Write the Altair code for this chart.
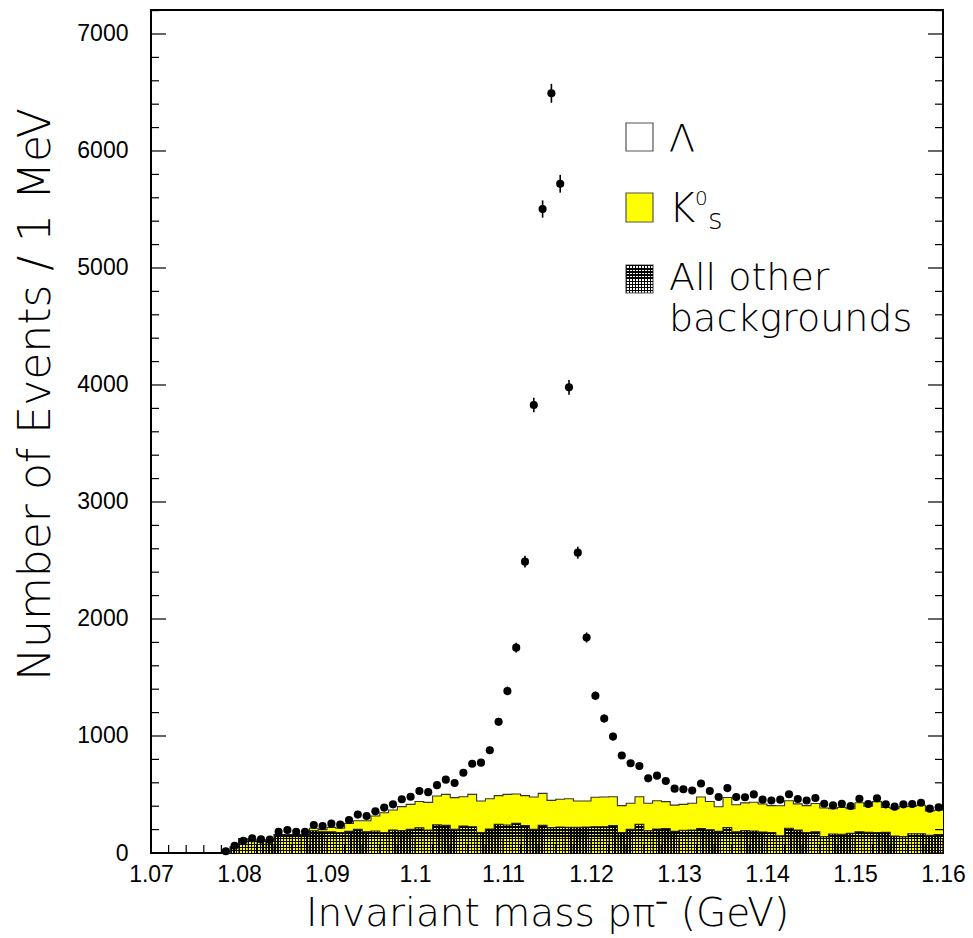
import altair as alt
import pandas as pd

# ---------------- data ----------------
# 1 MeV bins, lower edges 1.078 ... 1.159 GeV
bin_lo = [round(1.078 + 0.001 * i, 3) for i in range(82)]

data_counts = [15, 62, 105, 125, 116, 114, 182, 197, 182, 182,
               239, 231, 251, 242, 282, 328, 316, 356, 388, 416,
               459, 481, 530, 520, 580, 627, 598, 686, 763, 772,
               878, 1122, 1385, 1755, 2490, 3829, 5504, 6493, 5720, 3980,
               2567, 1842, 1344, 1150, 995, 833, 767, 744, 638, 661,
               615, 550, 545, 534, 594, 530, 479, 555, 479, 477,
               501, 456, 449, 456, 502, 462, 449, 470, 421, 407,
               421, 402, 464, 419, 467, 416, 396, 416, 419, 430,
               379, 390]

data_err = [4, 8, 10, 11, 11, 11, 13, 14, 13, 13,
            15, 15, 16, 16, 17, 18, 18, 19, 20, 20,
            21, 22, 23, 23, 24, 25, 24, 26, 28, 28,
            30, 33, 37, 42, 50, 62, 74, 81, 76, 63,
            51, 43, 37, 34, 32, 29, 28, 27, 25, 26,
            25, 23, 23, 23, 24, 23, 22, 24, 22, 22,
            22, 21, 21, 21, 22, 21, 21, 22, 21, 20,
            21, 20, 22, 20, 22, 20, 20, 20, 20, 21,
            19, 20]

# K0s + all other backgrounds (top of the yellow histogram)
bkg_total = [10, 54, 120, 111, 111, 111, 157, 157, 157, 157,
             211, 200, 219, 211, 253, 276, 276, 316, 344, 367,
             396, 416, 440, 433, 487, 501, 473, 481, 501, 444,
             464, 490, 501, 504, 490, 479, 510, 450, 460, 464,
             444, 444, 476, 479, 481, 405, 425, 481, 425, 447,
             439, 409, 416, 425, 478, 440, 395, 474, 413, 428,
             434, 419, 405, 404, 447, 420, 405, 423, 385, 378,
             390, 378, 430, 400, 439, 390, 379, 396, 400, 408,
             360, 365]

# all other backgrounds (hatched histogram)
bkg_other = [10, 54, 120, 111, 111, 111, 157, 157, 157, 157,
             190, 182, 182, 174, 185, 202, 182, 188, 174, 197,
             191, 202, 215, 197, 240, 236, 202, 231, 225, 174,
             205, 245, 239, 254, 234, 202, 236, 217, 222, 220,
             219, 222, 225, 225, 234, 174, 202, 245, 191, 205,
             208, 185, 194, 197, 208, 199, 185, 217, 182, 191,
             188, 179, 174, 148, 211, 197, 174, 182, 140, 162,
             160, 168, 182, 177, 174, 177, 145, 140, 165, 165,
             151, 157]

x_tick_values = [1.07, 1.08, 1.09, 1.10, 1.11, 1.12, 1.13, 1.14, 1.15, 1.16]
y_tick_values = [0, 1000, 2000, 3000, 4000, 5000, 6000, 7000]

legend_labels = ["\u039b", "K", "0", "s", "All other", "backgrounds"]

# ---------------- tables ----------------
pts = pd.DataFrame({
    "m": [round(b + 0.0005, 4) for b in bin_lo],
    "n": data_counts,
    "lo": [v - e for v, e in zip(data_counts, data_err)],
    "hi": [v + e for v, e in zip(data_counts, data_err)],
})
hist = pd.DataFrame({
    "m": bin_lo + [1.160],
    "total": bkg_total + [bkg_total[-1]],
    "other": bkg_other + [bkg_other[-1]],
})
bins = pd.DataFrame({
    "m": bin_lo,
    "m_hi": [round(b + 0.001, 3) for b in bin_lo],
    "other": bkg_other,
})

minor_x = [round(1.07 + 0.002 * i, 3) for i in range(46)]
minor_x = [v for v in minor_x if all(abs(v - t) > 1e-9 for t in x_tick_values)]
minor_y = [200 * i for i in range(37) if (200 * i) % 1000 != 0]

W, H = 792, 843
TITLE_FONT = "DejaVu Sans"
LABEL_FONT = "Liberation Sans"

xs = alt.Scale(domain=[1.07, 1.16], nice=False, zero=False)
ys = alt.Scale(domain=[0, 7205], nice=False, zero=True)


def stripes(n, on, off, frac, vertical):
    stops = []
    for k in range(n):
        a = k / n
        b = (k + frac) / n
        c = (k + 1) / n
        stops += [{"offset": a, "color": on}, {"offset": b, "color": on},
                  {"offset": b, "color": off}, {"offset": c, "color": off}]
    g = {"gradient": "linear", "stops": stops, "x1": 0, "y1": 0}
    if vertical:
        g.update({"x2": 1, "y2": 0})
    else:
        g.update({"x2": 0, "y2": 1})
    return g


YEL = "#FFFF00"
TRANSP = "rgba(0,0,0,0)"

x_axis = alt.Axis(values=x_tick_values, format=".2~f", ticks=False, domain=False,
                  grid=False, labelFont=LABEL_FONT, labelFontSize=23, labelPadding=10,
                  labelOverlap=False, labelFlush=False, labelColor="black",
                  title="Invariant mass p\u03c0\u207b (GeV)", titleFont=TITLE_FONT,
                  titleFontSize=39, titleFontWeight=200, titleColor="black",
                  titleY=72, titleBaseline="alphabetic")
y_axis = alt.Axis(values=y_tick_values, format="d", ticks=False, domain=False,
                  grid=False, labelFont=LABEL_FONT, labelFontSize=23, labelPadding=23,
                  labelFlush=False, labelOverlap=False, labelColor="black",
                  title="Number of Events / 1 MeV", titleFont=TITLE_FONT,
                  titleFontSize=44, titleFontWeight=200, titleColor="black",
                  titleAngle=270, titleX=-102, titleY=384, titleBaseline="alphabetic",
                  titleAlign="center")


def X(field):
    return alt.X(field, scale=xs, axis=x_axis)


def Y(field):
    return alt.Y(field, scale=ys, axis=y_axis)


yellow = alt.Chart(hist).mark_area(interpolate="step-after", fill=YEL).encode(
    x=X("m:Q"), y=Y("total:Q"))
yellow_line = alt.Chart(hist).mark_line(interpolate="step-after", color="#333333",
                                        strokeWidth=1.1).encode(
    x=X("m:Q"), y=Y("total:Q"))
hatch_v = alt.Chart(bins).mark_rect(fill=stripes(3, "#000000", YEL, 0.48, True)).encode(
    x=X("m:Q"), x2="m_hi:Q", y=Y("other:Q"), y2=alt.datum(0))
hatch_h = alt.Chart(hist).mark_area(interpolate="step-after",
                                    fill=stripes(10, "#000000", TRANSP, 0.45, False)).encode(
    x=X("m:Q"), y=Y("other:Q"))
hatch_line = alt.Chart(hist).mark_line(interpolate="step-after", color="#222222",
                                       strokeWidth=1.1).encode(
    x=X("m:Q"), y=Y("other:Q"))

errbars = alt.Chart(pts).mark_rule(color="black", strokeWidth=1.6).encode(
    x=X("m:Q"), y=Y("lo:Q"), y2="hi:Q")
points = alt.Chart(pts).mark_circle(color="black", opacity=1, size=66).encode(
    x=X("m:Q"), y=Y("n:Q"))

# inward ticks
tx_major = alt.Chart(pd.DataFrame({"v": x_tick_values})).mark_rule(color="black", strokeWidth=1.2).encode(
    x=X("v:Q"), y=alt.value(H), y2=alt.value(H - 15))
tx_minor = alt.Chart(pd.DataFrame({"v": minor_x})).mark_rule(color="black", strokeWidth=1.2).encode(
    x=X("v:Q"), y=alt.value(H), y2=alt.value(H - 8))
ty_major_l = alt.Chart(pd.DataFrame({"v": y_tick_values})).mark_rule(color="black", strokeWidth=1.2).encode(
    y=Y("v:Q"), x=alt.value(0), x2=alt.value(15))
ty_minor_l = alt.Chart(pd.DataFrame({"v": minor_y})).mark_rule(color="black", strokeWidth=1.2).encode(
    y=Y("v:Q"), x=alt.value(0), x2=alt.value(8))
ty_major_r = alt.Chart(pd.DataFrame({"v": y_tick_values})).mark_rule(color="black", strokeWidth=1.2).encode(
    y=Y("v:Q"), x=alt.value(W - 15), x2=alt.value(W))
ty_minor_r = alt.Chart(pd.DataFrame({"v": minor_y})).mark_rule(color="black", strokeWidth=1.2).encode(
    y=Y("v:Q"), x=alt.value(W - 8), x2=alt.value(W))

# legend
one = pd.DataFrame({"k": [0]})
LX0, LX1 = 475, 502


def box(y0, y1, fill, stroke):
    return alt.Chart(one).mark_rect(fill=fill, stroke=stroke, strokeWidth=1.2).encode(
        x=alt.value(LX0), x2=alt.value(LX1), y=alt.value(y0), y2=alt.value(y1))


leg_lambda = box(113, 141, "white", "#555555")
leg_k0 = box(183, 212, YEL, "#555555")
leg_oth_v = box(255, 283, stripes(9, "#000000", "#FFFFFF", 0.45, True), "#555555")
leg_oth_h = alt.Chart(one).mark_rect(fill=stripes(9, "#000000", TRANSP, 0.45, False)).encode(
    x=alt.value(LX0), x2=alt.value(LX1), y=alt.value(255), y2=alt.value(283))


def txt(label, x, y, size):
    return alt.Chart(one).mark_text(text=label, font=TITLE_FONT, fontSize=size, fontWeight=200,
                                    align="left", baseline="alphabetic", color="black").encode(
        x=alt.value(x), y=alt.value(y))


leg_texts = [
    txt(legend_labels[0], 518, 141, 38),
    txt(legend_labels[1], 518, 212, 40),
    txt(legend_labels[2], 544, 195, 20),
    txt(legend_labels[3], 557, 219, 28),
    txt(legend_labels[4], 518, 280, 38),
    txt(legend_labels[5], 518, 321, 38),
]

chart = alt.layer(
    yellow, yellow_line, hatch_v, hatch_h, hatch_line,
    errbars, points,
    tx_major, tx_minor, ty_major_l, ty_minor_l, ty_major_r, ty_minor_r,
    leg_lambda, leg_k0, leg_oth_v, leg_oth_h, *leg_texts,
).properties(
    width=W, height=H,
    autosize=alt.AutoSizeParams(type="none"),
    padding={"left": 151, "top": 10, "right": 30, "bottom": 85},
    background="white",
).configure_view(stroke="black", strokeWidth=2).configure_axis(grid=False)

chart.save("out.html", embed_options={"renderer": "svg", "actions": False})
